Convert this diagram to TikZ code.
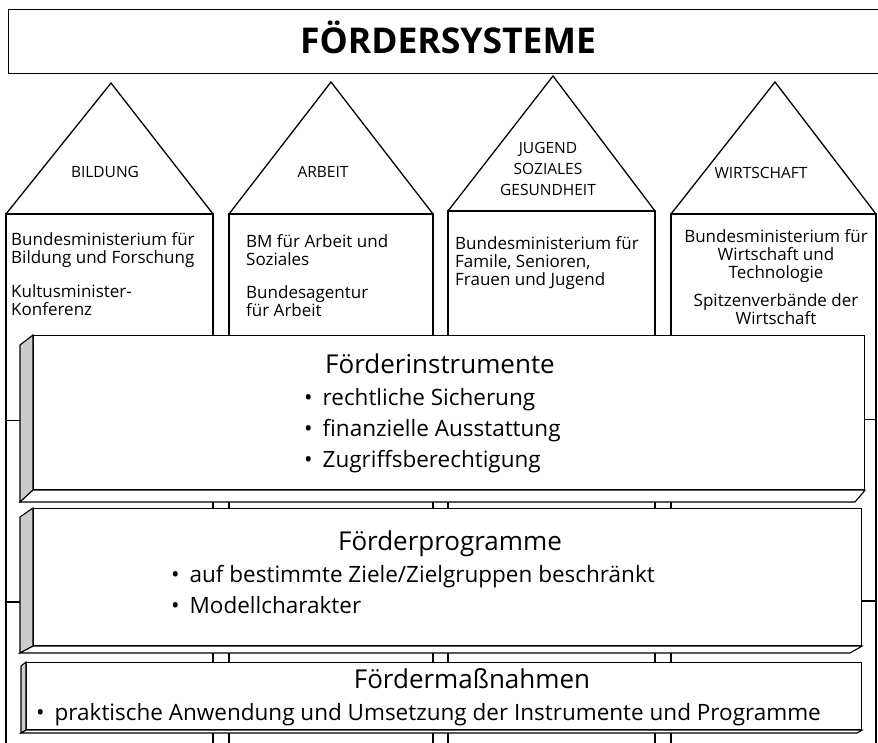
\documentclass[tikz,border=0pt]{standalone}
\usepackage{fontspec}
\setmainfont{Open Sans}
\newcommand{\fsz}[2]{\fontsize{#1}{#2}\selectfont}

\begin{document}
\begin{tikzpicture}[x=1pt,y=-1pt,
    wall/.style={line width=1.8pt},
    roof/.style={line width=1.3pt, line join=miter},
    face/.style={draw, line width=1.1pt, fill=white, inner sep=0pt, anchor=north west},
    side/.style={draw, line width=1.1pt, fill=gray!40, line join=miter},
    sill/.style={draw, line width=1.1pt, fill=white, line join=miter},
    link/.style={line width=1pt}]

  \useasboundingbox (0,0) rectangle (878,742);
  \clip (0,0) rectangle (878,742);

  % title bar
  \node (top) [draw, line width=1.2pt, inner sep=0pt, minimum width=882pt,
    minimum height=64pt, anchor=north west] at (8,9) {};
  \node (toptext) [anchor=base, font=\fsz{35.5}{38}\bfseries] at (448,53) {FÖRDERSYSTEME};

  % houses
  \draw[wall] (6,214) rectangle (213,760);
  \draw[wall] (229,214) rectangle (433,760);
  \draw[wall] (448,211) rectangle (655,760);
  \draw[wall] (671,214) rectangle (876,760);

  \draw[roof] (6,214) -- (111,83) -- (213,214);
  \draw[roof] (229,214) -- (331,82) -- (433,214);
  \draw[roof] (448,211) -- (553,76) -- (655,211);
  \draw[roof] (671,214) -- (775,82) -- (876,214);

  \begin{scope}[every node/.style={font=\fsz{15.5}{21}, align=center}]
    \node (bildung)    at (105,172) {BILDUNG};
    \node (arbeit)     at (323,172) {ARBEIT};
    \node (jugend)     at (548,169) {JUGEND\\SOZIALES\\GESUNDHEIT};
    \node (wirtschaft) at (761,173) {WIRTSCHAFT};
  \end{scope}

  \begin{scope}[every node/.style={font=\fsz{17}{18}, inner sep=0pt, anchor=north west, align=left}]
    \node (bmbf)   at (11,232)  {Bundesministerium für\\Bildung und Forschung\\[16pt]Kultusminister-\\Konferenz};
    \node (bmas)   at (246,234) {BM für Arbeit und\\Soziales\\[15pt]Bundesagentur\\für Arbeit};
    \node (bmfsfj) at (455,236) {Bundesministerium für\\Famile, Senioren,\\Frauen und Jugend};
    \node (bmwi)   [anchor=north, align=center] at (776,229) {Bundesministerium für\\Wirtschaft und\\Technologie\\[10pt]Spitzenverbände der\\Wirtschaft};
  \end{scope}

  % layers
  \node (instr) [face, minimum width=831pt, minimum height=154pt] at (33,335) {};
  \draw[side] (instr.north west) -- ++(-13,10) -- (20,502) -- (instr.south west) -- cycle;
  \draw[sill] (instr.south west) -- (20,502) -- (855,502) -- (instr.south east) -- cycle;

  \node (prog) [face, minimum width=828pt, minimum height=137pt] at (33,508) {};
  \draw[side] (prog.north west) -- ++(-13,9) -- (20,653) -- (prog.south west) -- cycle;
  \draw[sill] (prog.south west) -- (20,653) -- (850,653) -- (prog.south east) -- cycle;

  \node (mass) [face, minimum width=835pt, minimum height=67pt] at (26,662) {};
  \draw[side] (mass.north west) -- ++(-5,4) -- (21,733) -- (mass.south west) -- cycle;
  \draw[sill] (mass.south west) -- (21,733) -- (857,733) -- (mass.south east) -- cycle;

  \node (instrhead) [anchor=base, font=\fsz{26}{30}] at (440,373) {Förderinstrumente};
  \node (instrlist) [anchor=north west, align=left, inner sep=0pt, font=\fsz{22.5}{31}] at (304,388)
    {•\hspace{10pt}rechtliche Sicherung\\•\hspace{10pt}finanzielle Ausstattung\\•\hspace{10pt}Zugriffsberechtigung};

  \node (proghead) [anchor=base, font=\fsz{26}{30}] at (450,550) {Förderprogramme};
  \node (proglist) [anchor=north west, align=left, inner sep=0pt, font=\fsz{22.5}{31}] at (171,565)
    {•\hspace{10pt}auf bestimmte Ziele/Zielgruppen beschränkt\\•\hspace{10pt}Modellcharakter};

  \node (masshead) [anchor=base, font=\fsz{26}{30}] at (472,688) {Fördermaßnahmen};
  \node (masslist) [anchor=base west, inner sep=0pt, font=\fsz{22.5}{31}] at (36,720)
    {•\hspace{10pt}praktische Anwendung und Umsetzung der Instrumente und Programme};

  % links from the outer walls to the layers
  \coordinate (wl1) at (6,420);
  \coordinate (il)  at (20,420);
  \coordinate (wr1) at (876,419);
  \coordinate (ir)  at (864,419);
  \coordinate (wl2) at (6,602);
  \coordinate (pl)  at (20,602);
  \coordinate (wr2) at (876,601);
  \coordinate (pr)  at (861,601);

  \draw[link] (wl1) -- (il);
  \draw[link] (ir) -- (wr1);
  \draw[link, line width=2pt] (wl2) -- (pl);
  \draw[link, line width=2pt] (pr) -- (wr2);

\end{tikzpicture}
\end{document}
